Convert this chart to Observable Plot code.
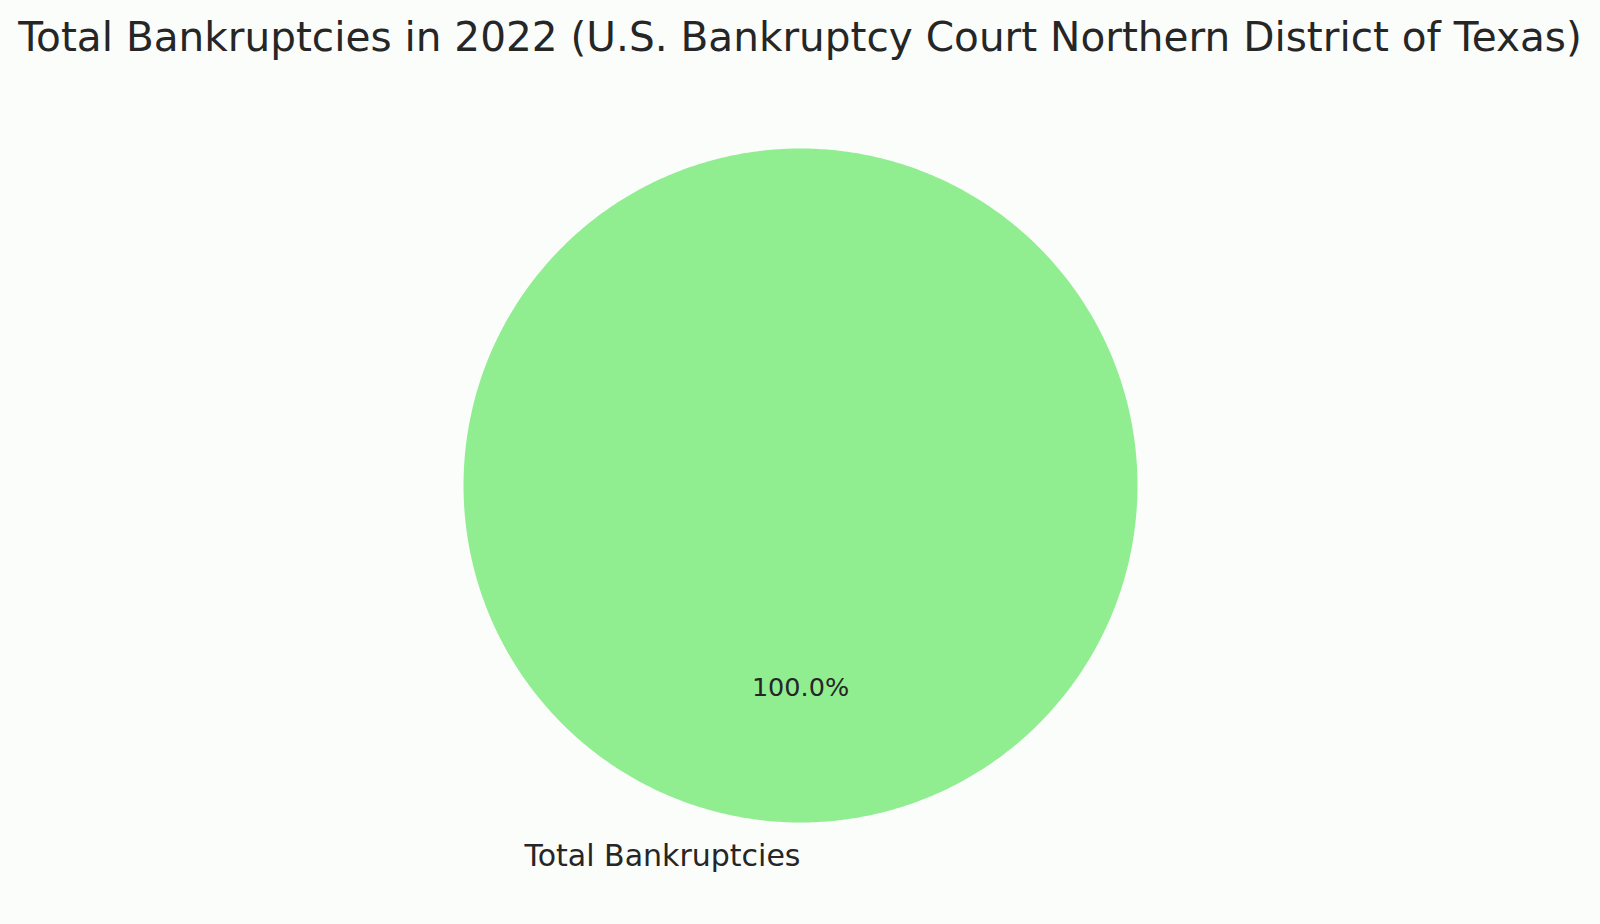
<!DOCTYPE html>
<html>
<head>
<meta charset="utf-8">
<script src="https://cdn.jsdelivr.net/npm/d3@7"></script>
<script src="https://cdn.jsdelivr.net/npm/@observablehq/plot@0.6"></script>
<style>
  html, body { margin: 0; padding: 0; background: #fbfdfb; }
  #head { position: relative; height: 80px; width: 1600px; }
  #title { position: absolute; top: 13px; left: 0; width: 1600px; text-align: center;
           font-family: "DejaVu Sans", sans-serif; font-size: 40.6px; color: #262626; white-space: nowrap; }
  #chart svg { display: block; }
</style>
</head>
<body>
<div id="head"><div id="title">Total Bankruptcies in 2022 (U.S. Bankruptcy Court Northern District of Texas)</div></div>
<div id="chart"></div>
<script>
const categories = ["Total Bankruptcies"];
const values = [1];
const colors = ["#90ee90"];

const W = 1600, H = 844;
const R = 337;            // pie radius in px
const CX = 800, CY = 405; // pie center in svg px
const startAngle = 90;    // degrees, counterclockwise like matplotlib

const total = d3.sum(values);
const slices = [];
let a0 = startAngle;
categories.forEach((c, i) => {
  const span = values[i] / total * 360;
  slices.push({category: c, value: values[i], a0, a1: a0 + span, color: colors[i]});
  a0 += span;
});

const pts = [];
slices.forEach(s => {
  const n = Math.max(4, Math.ceil((s.a1 - s.a0) / 0.5));
  pts.push({category: s.category, x: 0, y: 0});
  for (let k = 0; k <= n; k++) {
    const t = (s.a0 + (s.a1 - s.a0) * k / n) * Math.PI / 180;
    pts.push({category: s.category, x: R * Math.cos(t), y: R * Math.sin(t)});
  }
  pts.push({category: s.category, x: 0, y: 0});
});

const labels = slices.map(s => {
  const m = (s.a0 + s.a1) / 2 * Math.PI / 180;
  const cx = Math.cos(m), sy = Math.sin(m);
  return {
    category: s.category,
    pct: (s.value / total * 100).toFixed(1) + "%",
    lx: 1.1 * R * cx, ly: 1.1 * R * sy,
    px: 0.6 * R * cx, py: 0.6 * R * sy,
    right: cx > 0
  };
});

const chart = Plot.plot({
  width: W, height: H,
  margin: 0,
  x: {domain: [-CX, W - CX], axis: null},
  y: {domain: [CY - H, CY], axis: null},
  color: {domain: categories, range: colors},
  style: {background: "transparent", fontFamily: "DejaVu Sans, sans-serif"},
  marks: [
    Plot.line(pts, {x: "x", y: "y", z: "category", fill: "category", stroke: null, curve: "linear"}),
    Plot.text(labels, {x: "px", y: "py", text: "pct", fontSize: 25.5, fill: "#262626", textAnchor: "middle", lineAnchor: "middle"}),
    Plot.text(labels.filter(d => d.right), {x: "lx", y: "ly", text: "category", fontSize: 30, fill: "#262626", textAnchor: "start", lineAnchor: "middle"}),
    Plot.text(labels.filter(d => !d.right), {x: "lx", y: "ly", text: "category", fontSize: 30, fill: "#262626", textAnchor: "end", lineAnchor: "middle"})
  ]
});
document.getElementById("chart").appendChild(chart);
</script>
</body>
</html>
